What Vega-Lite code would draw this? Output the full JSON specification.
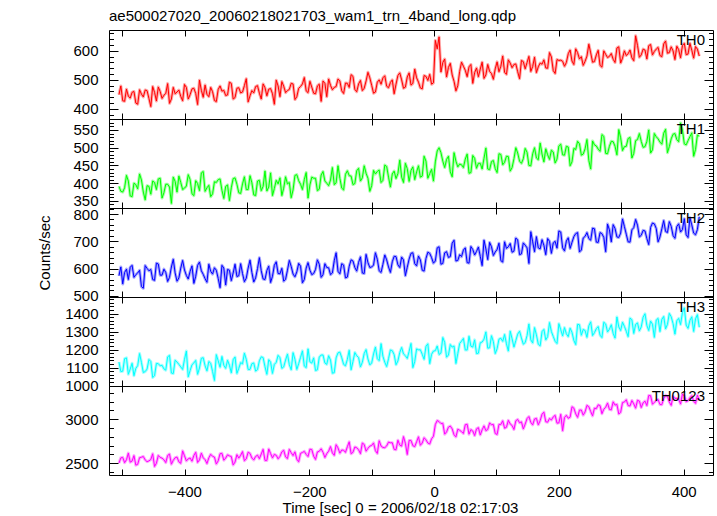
{
"$schema":"https://vega.github.io/schema/vega-lite/v6.json",
"padding":{"left":37,"top":8,"right":0,"bottom":0},
"background":"#ffffff",
"spacing":0,
"bounds":"flush",
"config":{"font":"Liberation Sans","view":{"stroke":"#000000","strokeWidth":1},
"axis":{"domain":false,"ticks":false,"tickSize":0,"gridColor":"#000000","gridOpacity":1,"gridWidth":1,"labelFont":"Liberation Sans","labelFontSize":15,"labelColor":"#000000","titleFont":"Liberation Sans","titleFontSize":15,"titleFontWeight":"normal","titleColor":"#000000","labelOverlap":false,"labelBound":false,"labelFlush":false}},
"data":{"values":[
{"t":-505,"a":449,"b":391,"c":574,"d":1131,"e":2502},
{"t":-502,"a":479,"b":377,"c":606,"d":1078,"e":2562},
{"t":-499,"a":428,"b":375,"c":544,"d":1080,"e":2567},
{"t":-496,"a":426,"b":387,"c":586,"d":1150,"e":2507},
{"t":-493,"a":468,"b":422,"c":598,"d":1154,"e":2540},
{"t":-490,"a":444,"b":406,"c":560,"d":1063,"e":2616},
{"t":-487,"a":437,"b":364,"c":605,"d":1092,"e":2513},
{"t":-484,"a":457,"b":362,"c":612,"d":1124,"e":2525},
{"t":-481,"a":460,"b":400,"c":568,"d":1055,"e":2587},
{"t":-478,"a":420,"b":396,"c":578,"d":1096,"e":2479},
{"t":-475,"a":416,"b":384,"c":584,"d":1111,"e":2488},
{"t":-472,"a":466,"b":426,"c":594,"d":1178,"e":2564},
{"t":-469,"a":451,"b":409,"c":534,"d":1129,"e":2569},
{"t":-466,"a":441,"b":375,"c":528,"d":1073,"e":2577},
{"t":-463,"a":465,"b":353,"c":611,"d":1078,"e":2538},
{"t":-460,"a":463,"b":393,"c":601,"d":1092,"e":2518},
{"t":-457,"a":436,"b":391,"c":592,"d":1145,"e":2527},
{"t":-454,"a":408,"b":369,"c":597,"d":1134,"e":2543},
{"t":-451,"a":477,"b":406,"c":560,"d":1045,"e":2608},
{"t":-448,"a":457,"b":402,"c":557,"d":1055,"e":2464},
{"t":-445,"a":427,"b":382,"c":620,"d":1123,"e":2501},
{"t":-442,"a":475,"b":412,"c":617,"d":1122,"e":2589},
{"t":-439,"a":460,"b":414,"c":576,"d":1110,"e":2567},
{"t":-436,"a":436,"b":358,"c":576,"d":1113,"e":2559},
{"t":-433,"a":447,"b":373,"c":598,"d":1093,"e":2540},
{"t":-430,"a":453,"b":397,"c":586,"d":1086,"e":2508},
{"t":-427,"a":487,"b":397,"c":553,"d":1160,"e":2589},
{"t":-424,"a":419,"b":389,"c":568,"d":1168,"e":2605},
{"t":-421,"a":434,"b":343,"c":606,"d":1070,"e":2490},
{"t":-418,"a":474,"b":417,"c":634,"d":1067,"e":2534},
{"t":-415,"a":452,"b":405,"c":584,"d":1141,"e":2563},
{"t":-412,"a":458,"b":375,"c":554,"d":1131,"e":2571},
{"t":-409,"a":465,"b":420,"c":566,"d":1118,"e":2516},
{"t":-406,"a":443,"b":402,"c":602,"d":1104,"e":2500},
{"t":-403,"a":428,"b":382,"c":630,"d":1090,"e":2641},
{"t":-400,"a":484,"b":386,"c":595,"d":1146,"e":2585},
{"t":-397,"a":474,"b":392,"c":575,"d":1192,"e":2527},
{"t":-394,"a":434,"b":424,"c":562,"d":1049,"e":2551},
{"t":-391,"a":449,"b":410,"c":590,"d":1084,"e":2560},
{"t":-388,"a":469,"b":370,"c":610,"d":1116,"e":2524},
{"t":-385,"a":471,"b":365,"c":546,"d":1126,"e":2589},
{"t":-382,"a":453,"b":407,"c":572,"d":1140,"e":2625},
{"t":-379,"a":415,"b":399,"c":612,"d":1063,"e":2510},
{"t":-376,"a":499,"b":379,"c":624,"d":1098,"e":2538},
{"t":-373,"a":464,"b":429,"c":592,"d":1152,"e":2615},
{"t":-370,"a":440,"b":433,"c":579,"d":1155,"e":2563},
{"t":-367,"a":482,"b":377,"c":563,"d":1110,"e":2541},
{"t":-364,"a":450,"b":387,"c":550,"d":1082,"e":2497},
{"t":-361,"a":442,"b":394,"c":616,"d":1134,"e":2562},
{"t":-358,"a":474,"b":362,"c":590,"d":1124,"e":2602},
{"t":-355,"a":459,"b":370,"c":580,"d":1078,"e":2579},
{"t":-352,"a":429,"b":404,"c":603,"d":1029,"e":2571},
{"t":-349,"a":425,"b":402,"c":594,"d":1172,"e":2492},
{"t":-346,"a":467,"b":410,"c":564,"d":1138,"e":2528},
{"t":-343,"a":479,"b":412,"c":530,"d":1102,"e":2609},
{"t":-340,"a":461,"b":380,"c":612,"d":1162,"e":2613},
{"t":-337,"a":464,"b":357,"c":602,"d":1113,"e":2535},
{"t":-334,"a":446,"b":391,"c":540,"d":1096,"e":2559},
{"t":-331,"a":448,"b":395,"c":597,"d":1141,"e":2596},
{"t":-328,"a":492,"b":351,"c":594,"d":1113,"e":2584},
{"t":-325,"a":488,"b":387,"c":556,"d":1071,"e":2577},
{"t":-322,"a":434,"b":413,"c":584,"d":1144,"e":2481},
{"t":-319,"a":439,"b":415,"c":616,"d":1159,"e":2514},
{"t":-316,"a":471,"b":397,"c":571,"d":1068,"e":2598},
{"t":-313,"a":473,"b":373,"c":574,"d":1096,"e":2559},
{"t":-310,"a":455,"b":371,"c":618,"d":1128,"e":2591},
{"t":-307,"a":458,"b":398,"c":582,"d":1121,"e":2633},
{"t":-304,"a":480,"b":418,"c":552,"d":1180,"e":2529},
{"t":-301,"a":504,"b":382,"c":565,"d":1146,"e":2550},
{"t":-298,"a":424,"b":382,"c":602,"d":1090,"e":2626},
{"t":-295,"a":445,"b":421,"c":631,"d":1090,"e":2612},
{"t":-292,"a":463,"b":401,"c":586,"d":1122,"e":2560},
{"t":-289,"a":455,"b":367,"c":551,"d":1126,"e":2538},
{"t":-286,"a":477,"b":365,"c":566,"d":1081,"e":2578},
{"t":-283,"a":480,"b":406,"c":600,"d":1089,"e":2592},
{"t":-280,"a":454,"b":408,"c":640,"d":1138,"e":2552},
{"t":-277,"a":434,"b":379,"c":592,"d":1160,"e":2606},
{"t":-274,"a":486,"b":391,"c":562,"d":1156,"e":2658},
{"t":-271,"a":473,"b":434,"c":560,"d":1105,"e":2533},
{"t":-268,"a":445,"b":378,"c":593,"d":1063,"e":2533},
{"t":-265,"a":468,"b":389,"c":609,"d":1144,"e":2663},
{"t":-262,"a":470,"b":429,"c":549,"d":1130,"e":2611},
{"t":-259,"a":452,"b":365,"c":572,"d":1068,"e":2561},
{"t":-256,"a":416,"b":385,"c":612,"d":1118,"e":2601},
{"t":-253,"a":499,"b":408,"c":625,"d":1129,"e":2591},
{"t":-250,"a":479,"b":398,"c":582,"d":1168,"e":2551},
{"t":-247,"a":442,"b":415,"c":581,"d":1155,"e":2578},
{"t":-244,"a":494,"b":365,"c":601,"d":1096,"e":2630},
{"t":-241,"a":478,"b":386,"c":554,"d":1104,"e":2648},
{"t":-238,"a":456,"b":418,"c":561,"d":1142,"e":2572},
{"t":-235,"a":463,"b":398,"c":594,"d":1175,"e":2554},
{"t":-232,"a":467,"b":402,"c":630,"d":1116,"e":2658},
{"t":-229,"a":488,"b":359,"c":608,"d":1088,"e":2620},
{"t":-226,"a":486,"b":381,"c":580,"d":1183,"e":2588},
{"t":-223,"a":432,"b":422,"c":570,"d":1146,"e":2630},
{"t":-220,"a":442,"b":424,"c":588,"d":1090,"e":2546},
{"t":-217,"a":471,"b":407,"c":619,"d":1122,"e":2517},
{"t":-214,"a":477,"b":397,"c":609,"d":1157,"e":2613},
{"t":-211,"a":486,"b":382,"c":548,"d":1193,"e":2623},
{"t":-208,"a":508,"b":410,"c":560,"d":1109,"e":2635},
{"t":-205,"a":462,"b":430,"c":602,"d":1100,"e":2601},
{"t":-202,"a":456,"b":358,"c":622,"d":1204,"e":2577},
{"t":-199,"a":495,"b":395,"c":594,"d":1132,"e":2660},
{"t":-196,"a":475,"b":417,"c":578,"d":1125,"e":2656},
{"t":-193,"a":454,"b":414,"c":582,"d":1154,"e":2580},
{"t":-190,"a":452,"b":414,"c":597,"d":1084,"e":2544},
{"t":-187,"a":479,"b":379,"c":632,"d":1088,"e":2629},
{"t":-184,"a":485,"b":383,"c":616,"d":1158,"e":2637},
{"t":-181,"a":426,"b":423,"c":568,"d":1170,"e":2665},
{"t":-178,"a":496,"b":433,"c":578,"d":1170,"e":2625},
{"t":-175,"a":488,"b":406,"c":618,"d":1126,"e":2566},
{"t":-172,"a":442,"b":400,"c":604,"d":1118,"e":2610},
{"t":-169,"a":503,"b":393,"c":603,"d":1166,"e":2638},
{"t":-166,"a":481,"b":409,"c":578,"d":1142,"e":2690},
{"t":-163,"a":466,"b":444,"c":584,"d":1069,"e":2618},
{"t":-160,"a":474,"b":396,"c":629,"d":1072,"e":2590},
{"t":-157,"a":477,"b":401,"c":658,"d":1154,"e":2711},
{"t":-154,"a":503,"b":449,"c":590,"d":1182,"e":2675},
{"t":-151,"a":496,"b":414,"c":581,"d":1186,"e":2615},
{"t":-148,"a":462,"b":386,"c":618,"d":1155,"e":2651},
{"t":-145,"a":453,"b":381,"c":613,"d":1118,"e":2648},
{"t":-142,"a":489,"b":425,"c":566,"d":1110,"e":2624},
{"t":-139,"a":488,"b":435,"c":569,"d":1146,"e":2688},
{"t":-136,"a":474,"b":421,"c":609,"d":1196,"e":2744},
{"t":-133,"a":518,"b":420,"c":632,"d":1088,"e":2609},
{"t":-130,"a":512,"b":396,"c":628,"d":1134,"e":2625},
{"t":-127,"a":467,"b":399,"c":604,"d":1184,"e":2685},
{"t":-124,"a":459,"b":435,"c":591,"d":1166,"e":2677},
{"t":-121,"a":486,"b":442,"c":623,"d":1156,"e":2653},
{"t":-118,"a":498,"b":406,"c":643,"d":1104,"e":2609},
{"t":-115,"a":463,"b":415,"c":584,"d":1130,"e":2730},
{"t":-112,"a":471,"b":449,"c":582,"d":1178,"e":2714},
{"t":-109,"a":496,"b":428,"c":652,"d":1200,"e":2638},
{"t":-106,"a":526,"b":414,"c":622,"d":1148,"e":2670},
{"t":-103,"a":507,"b":377,"c":604,"d":1115,"e":2695},
{"t":-100,"a":481,"b":393,"c":606,"d":1126,"e":2703},
{"t":-97,"a":454,"b":436,"c":613,"d":1176,"e":2731},
{"t":-94,"a":458,"b":426,"c":658,"d":1214,"e":2643},
{"t":-91,"a":492,"b":433,"c":634,"d":1150,"e":2612},
{"t":-88,"a":500,"b":437,"c":592,"d":1139,"e":2756},
{"t":-85,"a":485,"b":402,"c":586,"d":1233,"e":2696},
{"t":-82,"a":507,"b":408,"c":616,"d":1163,"e":2680},
{"t":-79,"a":514,"b":451,"c":650,"d":1130,"e":2677},
{"t":-76,"a":478,"b":447,"c":632,"d":1106,"e":2697},
{"t":-73,"a":473,"b":417,"c":606,"d":1150,"e":2741},
{"t":-70,"a":491,"b":389,"c":586,"d":1198,"e":2733},
{"t":-67,"a":500,"b":426,"c":625,"d":1194,"e":2734},
{"t":-64,"a":452,"b":434,"c":645,"d":1172,"e":2658},
{"t":-61,"a":485,"b":413,"c":644,"d":1116,"e":2654},
{"t":-58,"a":515,"b":427,"c":614,"d":1137,"e":2762},
{"t":-55,"a":524,"b":465,"c":604,"d":1184,"e":2707},
{"t":-52,"a":500,"b":417,"c":642,"d":1212,"e":2695},
{"t":-49,"a":471,"b":402,"c":632,"d":1176,"e":2803},
{"t":-46,"a":475,"b":456,"c":574,"d":1166,"e":2727},
{"t":-43,"a":510,"b":441,"c":605,"d":1151,"e":2600},
{"t":-40,"a":524,"b":405,"c":635,"d":1190,"e":2760},
{"t":-37,"a":482,"b":436,"c":656,"d":1234,"e":2760},
{"t":-34,"a":488,"b":446,"c":658,"d":1100,"e":2700},
{"t":-31,"a":537,"b":410,"c":618,"d":1134,"e":2689},
{"t":-28,"a":507,"b":432,"c":610,"d":1204,"e":2745},
{"t":-25,"a":492,"b":449,"c":646,"d":1199,"e":2801},
{"t":-22,"a":472,"b":417,"c":632,"d":1199,"e":2705},
{"t":-19,"a":469,"b":420,"c":594,"d":1174,"e":2730},
{"t":-16,"a":515,"b":476,"c":591,"d":1146,"e":2790},
{"t":-13,"a":512,"b":462,"c":637,"d":1218,"e":2766},
{"t":-10,"a":498,"b":414,"c":660,"d":1232,"e":2730},
{"t":-7,"a":519,"b":427,"c":656,"d":1122,"e":2719},
{"t":-4,"a":485,"b":439,"c":640,"d":1174,"e":2779},
{"t":-1,"a":490,"b":406,"c":620,"d":1192,"e":2807},
{"t":2,"a":636,"b":460,"c":628,"d":1194,"e":2940},
{"t":5,"a":607,"b":491,"c":676,"d":1220,"e":2986},
{"t":8,"a":648,"b":500,"c":680,"d":1173,"e":2973},
{"t":11,"a":527,"b":486,"c":616,"d":1181,"e":2952},
{"t":14,"a":560,"b":462,"c":619,"d":1267,"e":2954},
{"t":17,"a":572,"b":444,"c":658,"d":1240,"e":2831},
{"t":20,"a":510,"b":467,"c":662,"d":1158,"e":2856},
{"t":23,"a":543,"b":476,"c":641,"d":1170,"e":2911},
{"t":26,"a":557,"b":432,"c":644,"d":1228,"e":2923},
{"t":29,"a":517,"b":418,"c":693,"d":1214,"e":2891},
{"t":32,"a":495,"b":486,"c":704,"d":1220,"e":2823},
{"t":35,"a":462,"b":462,"c":628,"d":1123,"e":2800},
{"t":38,"a":480,"b":446,"c":630,"d":1178,"e":2887},
{"t":41,"a":529,"b":454,"c":651,"d":1234,"e":2875},
{"t":44,"a":561,"b":452,"c":644,"d":1247,"e":2859},
{"t":47,"a":547,"b":444,"c":668,"d":1262,"e":2839},
{"t":50,"a":533,"b":468,"c":676,"d":1198,"e":2939},
{"t":53,"a":511,"b":482,"c":622,"d":1198,"e":2943},
{"t":56,"a":545,"b":428,"c":620,"d":1274,"e":2831},
{"t":59,"a":553,"b":430,"c":681,"d":1219,"e":2883},
{"t":62,"a":488,"b":478,"c":670,"d":1214,"e":2867},
{"t":65,"a":525,"b":470,"c":650,"d":1254,"e":2815},
{"t":68,"a":541,"b":442,"c":663,"d":1178,"e":2891},
{"t":71,"a":511,"b":456,"c":679,"d":1180,"e":2905},
{"t":74,"a":537,"b":456,"c":645,"d":1238,"e":2822},
{"t":77,"a":561,"b":440,"c":611,"d":1242,"e":2880},
{"t":80,"a":505,"b":470,"c":704,"d":1258,"e":2925},
{"t":83,"a":517,"b":499,"c":672,"d":1298,"e":2871},
{"t":86,"a":553,"b":440,"c":633,"d":1208,"e":2884},
{"t":89,"a":529,"b":438,"c":696,"d":1210,"e":2958},
{"t":92,"a":522,"b":461,"c":680,"d":1277,"e":2939},
{"t":95,"a":502,"b":464,"c":648,"d":1244,"e":2941},
{"t":98,"a":538,"b":441,"c":661,"d":1178,"e":2838},
{"t":101,"a":562,"b":430,"c":670,"d":1205,"e":2827},
{"t":104,"a":528,"b":483,"c":693,"d":1258,"e":2942},
{"t":107,"a":547,"b":481,"c":629,"d":1263,"e":2941},
{"t":110,"a":582,"b":452,"c":624,"d":1246,"e":2983},
{"t":113,"a":526,"b":459,"c":698,"d":1284,"e":2898},
{"t":116,"a":519,"b":476,"c":674,"d":1232,"e":2909},
{"t":119,"a":569,"b":475,"c":680,"d":1192,"e":2988},
{"t":122,"a":558,"b":434,"c":692,"d":1302,"e":2947},
{"t":125,"a":542,"b":444,"c":660,"d":1260,"e":2929},
{"t":128,"a":553,"b":469,"c":664,"d":1214,"e":2884},
{"t":131,"a":555,"b":500,"c":712,"d":1250,"e":2983},
{"t":134,"a":528,"b":485,"c":705,"d":1286,"e":2998},
{"t":137,"a":504,"b":462,"c":651,"d":1302,"e":2960},
{"t":140,"a":567,"b":456,"c":654,"d":1264,"e":2971},
{"t":143,"a":563,"b":469,"c":694,"d":1230,"e":2890},
{"t":146,"a":538,"b":498,"c":686,"d":1239,"e":2945},
{"t":149,"a":560,"b":487,"c":676,"d":1278,"e":3008},
{"t":152,"a":581,"b":450,"c":619,"d":1342,"e":3031},
{"t":155,"a":529,"b":449,"c":735,"d":1254,"e":2965},
{"t":158,"a":546,"b":483,"c":698,"d":1237,"e":2936},
{"t":161,"a":578,"b":500,"c":662,"d":1322,"e":3003},
{"t":164,"a":525,"b":471,"c":717,"d":1282,"e":3010},
{"t":167,"a":545,"b":466,"c":676,"d":1230,"e":2937},
{"t":170,"a":558,"b":513,"c":672,"d":1221,"e":2984},
{"t":173,"a":554,"b":482,"c":706,"d":1300,"e":3058},
{"t":176,"a":569,"b":460,"c":685,"d":1312,"e":3081},
{"t":179,"a":541,"b":497,"c":651,"d":1254,"e":2972},
{"t":182,"a":540,"b":480,"c":710,"d":1272,"e":2967},
{"t":185,"a":594,"b":467,"c":700,"d":1350,"e":3009},
{"t":188,"a":579,"b":493,"c":656,"d":1300,"e":2992},
{"t":191,"a":532,"b":488,"c":694,"d":1273,"e":3027},
{"t":194,"a":522,"b":457,"c":700,"d":1246,"e":3045},
{"t":197,"a":570,"b":468,"c":675,"d":1234,"e":2956},
{"t":200,"a":567,"b":505,"c":738,"d":1344,"e":2959},
{"t":203,"a":568,"b":510,"c":734,"d":1310,"e":3056},
{"t":206,"a":564,"b":480,"c":676,"d":1276,"e":2870},
{"t":209,"a":547,"b":479,"c":665,"d":1322,"e":3020},
{"t":212,"a":560,"b":504,"c":701,"d":1288,"e":3045},
{"t":215,"a":590,"b":502,"c":713,"d":1272,"e":3011},
{"t":218,"a":603,"b":449,"c":674,"d":1319,"e":3024},
{"t":221,"a":565,"b":460,"c":696,"d":1296,"e":3142},
{"t":224,"a":553,"b":498,"c":717,"d":1251,"e":3127},
{"t":227,"a":607,"b":495,"c":728,"d":1228,"e":3061},
{"t":230,"a":594,"b":518,"c":732,"d":1340,"e":3022},
{"t":233,"a":572,"b":511,"c":661,"d":1338,"e":3104},
{"t":236,"a":580,"b":479,"c":668,"d":1280,"e":3105},
{"t":239,"a":550,"b":482,"c":712,"d":1312,"e":3047},
{"t":242,"a":564,"b":497,"c":718,"d":1306,"e":3084},
{"t":245,"a":582,"b":523,"c":732,"d":1268,"e":3158},
{"t":248,"a":623,"b":464,"c":710,"d":1332,"e":3143},
{"t":251,"a":593,"b":440,"c":704,"d":1354,"e":3088},
{"t":254,"a":561,"b":519,"c":748,"d":1278,"e":3039},
{"t":257,"a":563,"b":508,"c":746,"d":1294,"e":3126},
{"t":260,"a":586,"b":505,"c":697,"d":1316,"e":3121},
{"t":263,"a":602,"b":496,"c":696,"d":1328,"e":3164},
{"t":266,"a":550,"b":490,"c":732,"d":1280,"e":3156},
{"t":269,"a":544,"b":537,"c":728,"d":1267,"e":3063},
{"t":272,"a":600,"b":532,"c":714,"d":1352,"e":3114},
{"t":275,"a":588,"b":484,"c":662,"d":1342,"e":3137},
{"t":278,"a":577,"b":483,"c":763,"d":1298,"e":3184},
{"t":281,"a":581,"b":504,"c":742,"d":1313,"e":3112},
{"t":284,"a":591,"b":518,"c":698,"d":1338,"e":3107},
{"t":287,"a":571,"b":517,"c":761,"d":1290,"e":3198},
{"t":290,"a":560,"b":504,"c":747,"d":1264,"e":3161},
{"t":293,"a":610,"b":480,"c":716,"d":1381,"e":3169},
{"t":296,"a":614,"b":551,"c":714,"d":1326,"e":3060},
{"t":299,"a":558,"b":528,"c":730,"d":1306,"e":3079},
{"t":302,"a":575,"b":492,"c":782,"d":1352,"e":3190},
{"t":305,"a":600,"b":503,"c":754,"d":1329,"e":3196},
{"t":308,"a":584,"b":504,"c":726,"d":1302,"e":3222},
{"t":311,"a":590,"b":526,"c":698,"d":1272,"e":3156},
{"t":314,"a":603,"b":529,"c":697,"d":1375,"e":3151},
{"t":317,"a":576,"b":471,"c":742,"d":1366,"e":3213},
{"t":320,"a":566,"b":484,"c":750,"d":1290,"e":3175},
{"t":323,"a":652,"b":520,"c":780,"d":1340,"e":3126},
{"t":326,"a":619,"b":523,"c":759,"d":1348,"e":3216},
{"t":329,"a":578,"b":540,"c":716,"d":1304,"e":3207},
{"t":332,"a":586,"b":518,"c":722,"d":1326,"e":3133},
{"t":335,"a":606,"b":501,"c":740,"d":1380,"e":3187},
{"t":338,"a":603,"b":503,"c":738,"d":1399,"e":3206},
{"t":341,"a":572,"b":518,"c":710,"d":1334,"e":3156},
{"t":344,"a":618,"b":550,"c":688,"d":1306,"e":3270},
{"t":347,"a":622,"b":485,"c":751,"d":1358,"e":3268},
{"t":350,"a":586,"b":494,"c":767,"d":1341,"e":3171},
{"t":353,"a":598,"b":540,"c":764,"d":1268,"e":3193},
{"t":356,"a":606,"b":531,"c":747,"d":1364,"e":3211},
{"t":359,"a":612,"b":525,"c":698,"d":1373,"e":3225},
{"t":362,"a":584,"b":516,"c":716,"d":1300,"e":3168},
{"t":365,"a":580,"b":510,"c":746,"d":1368,"e":3166},
{"t":368,"a":624,"b":541,"c":776,"d":1384,"e":3236},
{"t":371,"a":634,"b":552,"c":736,"d":1315,"e":3271},
{"t":374,"a":592,"b":486,"c":732,"d":1340,"e":3261},
{"t":377,"a":594,"b":503,"c":772,"d":1401,"e":3195},
{"t":380,"a":614,"b":525,"c":755,"d":1382,"e":3158},
{"t":383,"a":600,"b":538,"c":721,"d":1344,"e":3260},
{"t":386,"a":570,"b":540,"c":711,"d":1286,"e":3238},
{"t":389,"a":616,"b":523,"c":754,"d":1360,"e":3237},
{"t":392,"a":604,"b":517,"c":764,"d":1373,"e":3227},
{"t":395,"a":576,"b":570,"c":734,"d":1339,"e":3173},
{"t":398,"a":618,"b":550,"c":743,"d":1406,"e":3287},
{"t":401,"a":626,"b":511,"c":783,"d":1432,"e":3264},
{"t":404,"a":587,"b":508,"c":724,"d":1336,"e":3200},
{"t":407,"a":589,"b":520,"c":714,"d":1318,"e":3212},
{"t":410,"a":626,"b":531,"c":786,"d":1362,"e":3244},
{"t":413,"a":602,"b":542,"c":760,"d":1382,"e":3268},
{"t":416,"a":575,"b":476,"c":730,"d":1301,"e":3204},
{"t":419,"a":615,"b":495,"c":724,"d":1371,"e":3181},
{"t":422,"a":606,"b":536,"c":743,"d":1394,"e":3273},
{"t":425,"a":582,"b":532,"c":790,"d":1324,"e":3217}
]},
"vconcat":[
{
"title":{"text":"ae500027020_20060218021703_wam1_trn_4band_long.qdp","anchor":"start","frame":"group","font":"Liberation Sans","fontSize":15,"fontWeight":"normal","color":"#000000","baseline":"alphabetic","offset":-6},
"width":604,"height":89,
"layer":[
{"mark":{"type":"line","color":"#ff0000","strokeWidth":3,"opacity":0.35,"strokeJoin":"round","clip":true},
"encoding":{
"x":{"field":"t","type":"quantitative","scale":{"domain":[-521,447],"nice":false,"zero":false},"axis":{"orient":"bottom","values":[-500,-400,-300,-200,-100,0,100,200,300,400],"labels":false,"grid":true,"gridDash":[6,77,6],"zindex":1,"title":null}},
"y":{"field":"a","type":"quantitative","scale":{"domain":[365,672],"nice":false,"zero":false},"axis":{"orient":"left","values":[400,500,600],"format":"d","labelPadding":11,"grid":true,"gridDash":[9,586,9],"zindex":1,"title":null}}}},
{"mark":{"type":"line","color":"#ff0000","strokeWidth":1,"clip":true},
"encoding":{
"x":{"field":"t","type":"quantitative","scale":{"domain":[-521,447],"nice":false,"zero":false},"axis":null},
"y":{"field":"a","type":"quantitative","scale":{"domain":[365,672],"nice":false,"zero":false},"axis":null}}},
{"data":{"values":[{"name":"TH0"}]},
"mark":{"type":"text","align":"right","baseline":"alphabetic","dx":-8,"dy":15,"font":"Liberation Sans","fontSize":15,"color":"#000000"},
"encoding":{"x":{"datum":447,"type":"quantitative","axis":null},"y":{"datum":672,"type":"quantitative","axis":{"orient":"left","values":[380,420,440,460,480,520,540,560,580,620,640,660],"labels":false,"grid":true,"gridDash":[4.5,595,4.5],"zindex":1,"title":null}},"text":{"field":"name"}}}
],
"resolve":{"axis":{"x":"independent","y":"independent"}}
},
{
"width":604,"height":89,
"layer":[
{"mark":{"type":"line","color":"#00ff00","strokeWidth":3,"opacity":0.35,"strokeJoin":"round","clip":true},
"encoding":{
"x":{"field":"t","type":"quantitative","scale":{"domain":[-521,447],"nice":false,"zero":false},"axis":{"orient":"bottom","values":[-500,-400,-300,-200,-100,0,100,200,300,400],"labels":false,"grid":true,"gridDash":[6,77,6],"zindex":1,"title":null}},
"y":{"field":"b","type":"quantitative","scale":{"domain":[330,581],"nice":false,"zero":false},"axis":{"orient":"left","values":[350,400,450,500,550],"format":"d","labelPadding":11,"grid":true,"gridDash":[9,586,9],"zindex":1,"title":null}}}},
{"mark":{"type":"line","color":"#00ff00","strokeWidth":1,"clip":true},
"encoding":{
"x":{"field":"t","type":"quantitative","scale":{"domain":[-521,447],"nice":false,"zero":false},"axis":null},
"y":{"field":"b","type":"quantitative","scale":{"domain":[330,581],"nice":false,"zero":false},"axis":null}}},
{"data":{"values":[{"name":"TH1"}]},
"mark":{"type":"text","align":"right","baseline":"alphabetic","dx":-8,"dy":15,"font":"Liberation Sans","fontSize":15,"color":"#000000"},
"encoding":{"x":{"datum":447,"type":"quantitative","axis":null},"y":{"datum":581,"type":"quantitative","axis":{"orient":"left","values":[340,360,370,380,390,410,420,430,440,460,470,480,490,510,520,530,540,560,570,580],"labels":false,"grid":true,"gridDash":[4.5,595,4.5],"zindex":1,"title":null}},"text":{"field":"name"}}}
],
"resolve":{"axis":{"x":"independent","y":"independent"}}
},
{
"width":604,"height":89,
"layer":[
{"mark":{"type":"line","color":"#0000ff","strokeWidth":3,"opacity":0.35,"strokeJoin":"round","clip":true},
"encoding":{
"x":{"field":"t","type":"quantitative","scale":{"domain":[-521,447],"nice":false,"zero":false},"axis":{"orient":"bottom","values":[-500,-400,-300,-200,-100,0,100,200,300,400],"labels":false,"grid":true,"gridDash":[6,77,6],"zindex":1,"title":null}},
"y":{"field":"c","type":"quantitative","scale":{"domain":[496,822],"nice":false,"zero":false},"axis":{"orient":"left","values":[500,600,700,800],"format":"d","labelPadding":11,"grid":true,"gridDash":[9,586,9],"zindex":1,"title":"Counts/sec","titlePadding":20}}}},
{"mark":{"type":"line","color":"#0000ff","strokeWidth":1,"clip":true},
"encoding":{
"x":{"field":"t","type":"quantitative","scale":{"domain":[-521,447],"nice":false,"zero":false},"axis":null},
"y":{"field":"c","type":"quantitative","scale":{"domain":[496,822],"nice":false,"zero":false},"axis":null}}},
{"data":{"values":[{"name":"TH2"}]},
"mark":{"type":"text","align":"right","baseline":"alphabetic","dx":-8,"dy":15,"font":"Liberation Sans","fontSize":15,"color":"#000000"},
"encoding":{"x":{"datum":447,"type":"quantitative","axis":null},"y":{"datum":822,"type":"quantitative","axis":{"orient":"left","values":[520,540,560,580,620,640,660,680,720,740,760,780,820],"labels":false,"grid":true,"gridDash":[4.5,595,4.5],"zindex":1,"title":null}},"text":{"field":"name"}}}
],
"resolve":{"axis":{"x":"independent","y":"independent"}}
},
{
"width":604,"height":89,
"layer":[
{"mark":{"type":"line","color":"#00ffff","strokeWidth":3,"opacity":0.35,"strokeJoin":"round","clip":true},
"encoding":{
"x":{"field":"t","type":"quantitative","scale":{"domain":[-521,447],"nice":false,"zero":false},"axis":{"orient":"bottom","values":[-500,-400,-300,-200,-100,0,100,200,300,400],"labels":false,"grid":true,"gridDash":[6,77,6],"zindex":1,"title":null}},
"y":{"field":"d","type":"quantitative","scale":{"domain":[998,1492],"nice":false,"zero":false},"axis":{"orient":"left","values":[1000,1100,1200,1300,1400],"format":"d","labelPadding":11,"grid":true,"gridDash":[9,586,9],"zindex":1,"title":null}}}},
{"mark":{"type":"line","color":"#00ffff","strokeWidth":1,"clip":true},
"encoding":{
"x":{"field":"t","type":"quantitative","scale":{"domain":[-521,447],"nice":false,"zero":false},"axis":null},
"y":{"field":"d","type":"quantitative","scale":{"domain":[998,1492],"nice":false,"zero":false},"axis":null}}},
{"data":{"values":[{"name":"TH3"}]},
"mark":{"type":"text","align":"right","baseline":"alphabetic","dx":-8,"dy":15,"font":"Liberation Sans","fontSize":15,"color":"#000000"},
"encoding":{"x":{"datum":447,"type":"quantitative","axis":null},"y":{"datum":1492,"type":"quantitative","axis":{"orient":"left","values":[1020,1040,1060,1080,1120,1140,1160,1180,1220,1240,1260,1280,1320,1340,1360,1380,1420,1440,1460,1480],"labels":false,"grid":true,"gridDash":[4.5,595,4.5],"zindex":1,"title":null}},"text":{"field":"name"}}}
],
"resolve":{"axis":{"x":"independent","y":"independent"}}
},
{
"width":604,"height":89,
"layer":[
{"mark":{"type":"line","color":"#ff00ff","strokeWidth":3,"opacity":0.35,"strokeJoin":"round","clip":true},
"encoding":{
"x":{"field":"t","type":"quantitative","scale":{"domain":[-521,447],"nice":false,"zero":false},"axis":{"orient":"bottom","values":[-500,-400,-300,-200,-100,0,100,200,300,400],"format":"d","labelExpr":"datum.value % 200 === 0 ? datum.label : ''","labelPadding":9,"grid":true,"gridDash":[6,77,6],"zindex":1,"title":"Time [sec] 0 = 2006/02/18 02:17:03","titlePadding":1,"titleX":291}},
"y":{"field":"e","type":"quantitative","scale":{"domain":[2367,3378],"nice":false,"zero":false},"axis":{"orient":"left","values":[2500,3000],"format":"d","labelPadding":11,"grid":true,"gridDash":[9,586,9],"zindex":1,"title":null}}}},
{"mark":{"type":"line","color":"#ff00ff","strokeWidth":1,"clip":true},
"encoding":{
"x":{"field":"t","type":"quantitative","scale":{"domain":[-521,447],"nice":false,"zero":false},"axis":null},
"y":{"field":"e","type":"quantitative","scale":{"domain":[2367,3378],"nice":false,"zero":false},"axis":null}}},
{"data":{"values":[{"name":"TH0123"}]},
"mark":{"type":"text","align":"right","baseline":"alphabetic","dx":-8,"dy":15,"font":"Liberation Sans","fontSize":15,"color":"#000000"},
"encoding":{"x":{"datum":447,"type":"quantitative","axis":null},"y":{"datum":3378,"type":"quantitative","axis":{"orient":"left","values":[2400,2600,2700,2800,2900,3100,3200,3300],"labels":false,"grid":true,"gridDash":[4.5,595,4.5],"zindex":1,"title":null}},"text":{"field":"name"}}}
],
"resolve":{"axis":{"x":"independent","y":"independent"}}
}
]
}
